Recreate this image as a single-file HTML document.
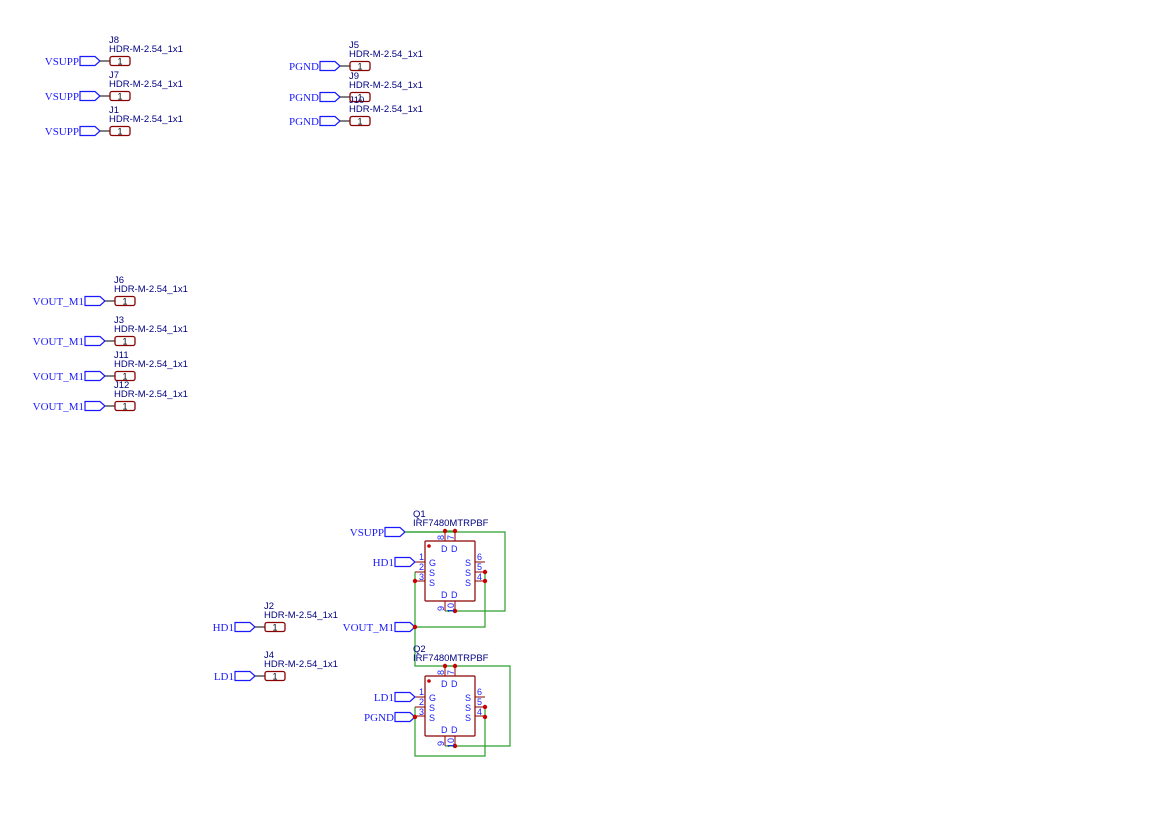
<!DOCTYPE html>
<html><head><meta charset="utf-8"><style>
html,body{margin:0;padding:0;background:#fff;}
svg{display:block}
.n{font-family:"Liberation Serif",serif;font-size:11px;fill:#1a1aff;text-anchor:end}
.r{font-family:"Liberation Sans",sans-serif;font-size:9.5px;fill:#000080}
.p{font-family:"Liberation Sans",sans-serif;font-size:9px;fill:#000;text-anchor:middle}
.q{font-family:"Liberation Sans",sans-serif;font-size:9.5px;fill:#000080}
.pn{font-family:"Liberation Sans",sans-serif;font-size:9px;fill:#1a1aff}
</style></head><body>
<svg width="1169" height="827" viewBox="0 0 1169 827" xmlns="http://www.w3.org/2000/svg">
<defs>
<g id="hdr">
<polygon points="0,-4.5 15,-4.5 20,0 15,4.5 0,4.5" fill="none" stroke="#1a1aff" stroke-width="1.2"/>
<line x1="20" y1="0" x2="30" y2="0" stroke="#000" stroke-width="1"/>
<rect x="30" y="-4.5" width="20" height="9" rx="2" fill="none" stroke="#8b0000" stroke-width="1.3"/>
</g>
<polygon id="flag" points="0,-4.5 15,-4.5 20,0 15,4.5 0,4.5" fill="none" stroke="#1a1aff" stroke-width="1.2"/>
<g id="fet">
<rect x="425" y="541" width="50" height="60" rx="1" fill="none" stroke="#8b0000" stroke-width="1.2"/>
<g stroke="#8b0000" stroke-width="1">
<line x1="445" y1="531" x2="445" y2="541"/><line x1="455" y1="531" x2="455" y2="541"/>
<line x1="415" y1="562" x2="425" y2="562"/><line x1="415" y1="572" x2="425" y2="572"/><line x1="415" y1="581" x2="425" y2="581"/>
<line x1="475" y1="562" x2="485" y2="562"/><line x1="475" y1="572" x2="485" y2="572"/><line x1="475" y1="581" x2="485" y2="581"/>
<line x1="445" y1="601" x2="445" y2="611"/><line x1="455" y1="601" x2="455" y2="611"/>
</g>
<circle cx="429" cy="546" r="1.8" fill="#c00"/>
</g>
</defs>

<use href="#hdr" x="80" y="61"/><use href="#hdr" x="80" y="96"/><use href="#hdr" x="80" y="131"/>
<text class="n" x="79" y="65">VSUPP</text><text class="n" x="79" y="100">VSUPP</text><text class="n" x="79" y="135">VSUPP</text>
<text class="p" x="120" y="64.5">1</text><text class="p" x="120" y="99.5">1</text><text class="p" x="120" y="134.5">1</text>
<text class="r" x="109" y="43">J8</text><text class="r" x="109" y="52">HDR-M-2.54_1x1</text>
<text class="r" x="109" y="78">J7</text><text class="r" x="109" y="87">HDR-M-2.54_1x1</text>
<text class="r" x="109" y="113">J1</text><text class="r" x="109" y="122">HDR-M-2.54_1x1</text>

<use href="#hdr" x="320" y="66"/><use href="#hdr" x="320" y="97"/><use href="#hdr" x="320" y="121"/>
<text class="n" x="319" y="70">PGND</text><text class="n" x="319" y="101">PGND</text><text class="n" x="319" y="125">PGND</text>
<text class="p" x="360" y="69.5">1</text><text class="p" x="360" y="100.5">1</text><text class="p" x="360" y="124.5">1</text>
<text class="r" x="349" y="48">J5</text><text class="r" x="349" y="57">HDR-M-2.54_1x1</text>
<text class="r" x="349" y="79">J9</text><text class="r" x="349" y="88">HDR-M-2.54_1x1</text>
<text class="r" x="349" y="103">J10</text><text class="r" x="349" y="112">HDR-M-2.54_1x1</text>

<use href="#hdr" x="85" y="301"/><use href="#hdr" x="85" y="341"/><use href="#hdr" x="85" y="376"/><use href="#hdr" x="85" y="406"/>
<text class="n" x="84" y="305">VOUT_M1</text><text class="n" x="84" y="345">VOUT_M1</text><text class="n" x="84" y="380">VOUT_M1</text><text class="n" x="84" y="410">VOUT_M1</text>
<text class="p" x="125" y="304.5">1</text><text class="p" x="125" y="344.5">1</text><text class="p" x="125" y="379.5">1</text><text class="p" x="125" y="409.5">1</text>
<text class="r" x="114" y="283">J6</text><text class="r" x="114" y="292">HDR-M-2.54_1x1</text>
<text class="r" x="114" y="323">J3</text><text class="r" x="114" y="332">HDR-M-2.54_1x1</text>
<text class="r" x="114" y="358">J11</text><text class="r" x="114" y="367">HDR-M-2.54_1x1</text>
<text class="r" x="114" y="388">J12</text><text class="r" x="114" y="397">HDR-M-2.54_1x1</text>

<use href="#hdr" x="235" y="627"/><use href="#hdr" x="235" y="676"/>
<text class="n" x="234" y="631">HD1</text><text class="n" x="234" y="680">LD1</text>
<text class="p" x="275" y="630.5">1</text><text class="p" x="275" y="679.5">1</text>
<text class="r" x="264" y="609">J2</text><text class="r" x="264" y="618">HDR-M-2.54_1x1</text>
<text class="r" x="264" y="658">J4</text><text class="r" x="264" y="667">HDR-M-2.54_1x1</text>

<g fill="none" stroke="#2ca02c" stroke-width="1.2">
<polyline points="405,532 505,532 505,611 455,611"/>
<line x1="445" y1="611" x2="455" y2="611"/>
<polyline points="415,572 415,627 415,666 510,666 510,746 455,746"/>
<line x1="445" y1="746" x2="455" y2="746"/>
<polyline points="485,572 485,627 415,627"/>
<polyline points="415,707 415,756 485,756 485,707"/>
<line x1="445" y1="531" x2="455" y2="531"/>
<line x1="445" y1="666" x2="455" y2="666"/>
</g>

<use href="#fet"/>
<use href="#fet" y="135"/>

<use href="#flag" x="385" y="532"/><text class="n" x="384" y="536">VSUPP</text>
<line x1="405" y1="532" x2="445" y2="532" stroke="#2ca02c" stroke-width="1.2"/>
<use href="#flag" x="395" y="562"/><text class="n" x="394" y="566">HD1</text>
<use href="#flag" x="395" y="627"/><text class="n" x="394" y="631">VOUT_M1</text>
<use href="#flag" x="395" y="697"/><text class="n" x="394" y="701">LD1</text>
<use href="#flag" x="395" y="717"/><text class="n" x="394" y="721">PGND</text>

<g fill="#c00">
<circle cx="445" cy="531" r="2.2"/><circle cx="455" cy="531" r="2.2"/>
<circle cx="415" cy="581" r="2.2"/><circle cx="485" cy="572" r="2.2"/><circle cx="485" cy="581" r="2.2"/>
<circle cx="455" cy="611" r="2.2"/><circle cx="415" cy="627" r="2.2"/>
<circle cx="445" cy="666" r="2.2"/><circle cx="455" cy="666" r="2.2"/>
<circle cx="415" cy="717" r="2.2"/><circle cx="485" cy="707" r="2.2"/><circle cx="485" cy="717" r="2.2"/>
<circle cx="455" cy="746" r="2.2"/>
</g>

<text class="q" x="413" y="517">Q1</text><text class="q" x="413" y="526">IRF7480MTRPBF</text>
<text class="q" x="413" y="652">Q2</text><text class="q" x="413" y="661">IRF7480MTRPBF</text>

<g class="pn">
<text x="419" y="560">1</text><text x="419" y="570">2</text><text x="419" y="580">3</text>
<text x="477" y="560">6</text><text x="477" y="570">5</text><text x="477" y="580">4</text>
<text x="429" y="566">G</text><text x="429" y="576">S</text><text x="429" y="586">S</text>
<text x="465" y="566">S</text><text x="465" y="576">S</text><text x="465" y="586">S</text>
<text x="441" y="552">D</text><text x="451" y="552">D</text>
<text x="441" y="598">D</text><text x="451" y="598">D</text>
<text transform="translate(444,540) rotate(-90)">8</text><text transform="translate(454,540) rotate(-90)">7</text>
<text transform="translate(444,611) rotate(-90)">9</text><text transform="translate(454,613) rotate(-90)">10</text>
</g>
<g class="pn" transform="translate(0,135)">
<text x="419" y="560">1</text><text x="419" y="570">2</text><text x="419" y="580">3</text>
<text x="477" y="560">6</text><text x="477" y="570">5</text><text x="477" y="580">4</text>
<text x="429" y="566">G</text><text x="429" y="576">S</text><text x="429" y="586">S</text>
<text x="465" y="566">S</text><text x="465" y="576">S</text><text x="465" y="586">S</text>
<text x="441" y="552">D</text><text x="451" y="552">D</text>
<text x="441" y="598">D</text><text x="451" y="598">D</text>
<text transform="translate(444,540) rotate(-90)">8</text><text transform="translate(454,540) rotate(-90)">7</text>
<text transform="translate(444,611) rotate(-90)">9</text><text transform="translate(454,613) rotate(-90)">10</text>
</g>
</svg>
</body></html>
